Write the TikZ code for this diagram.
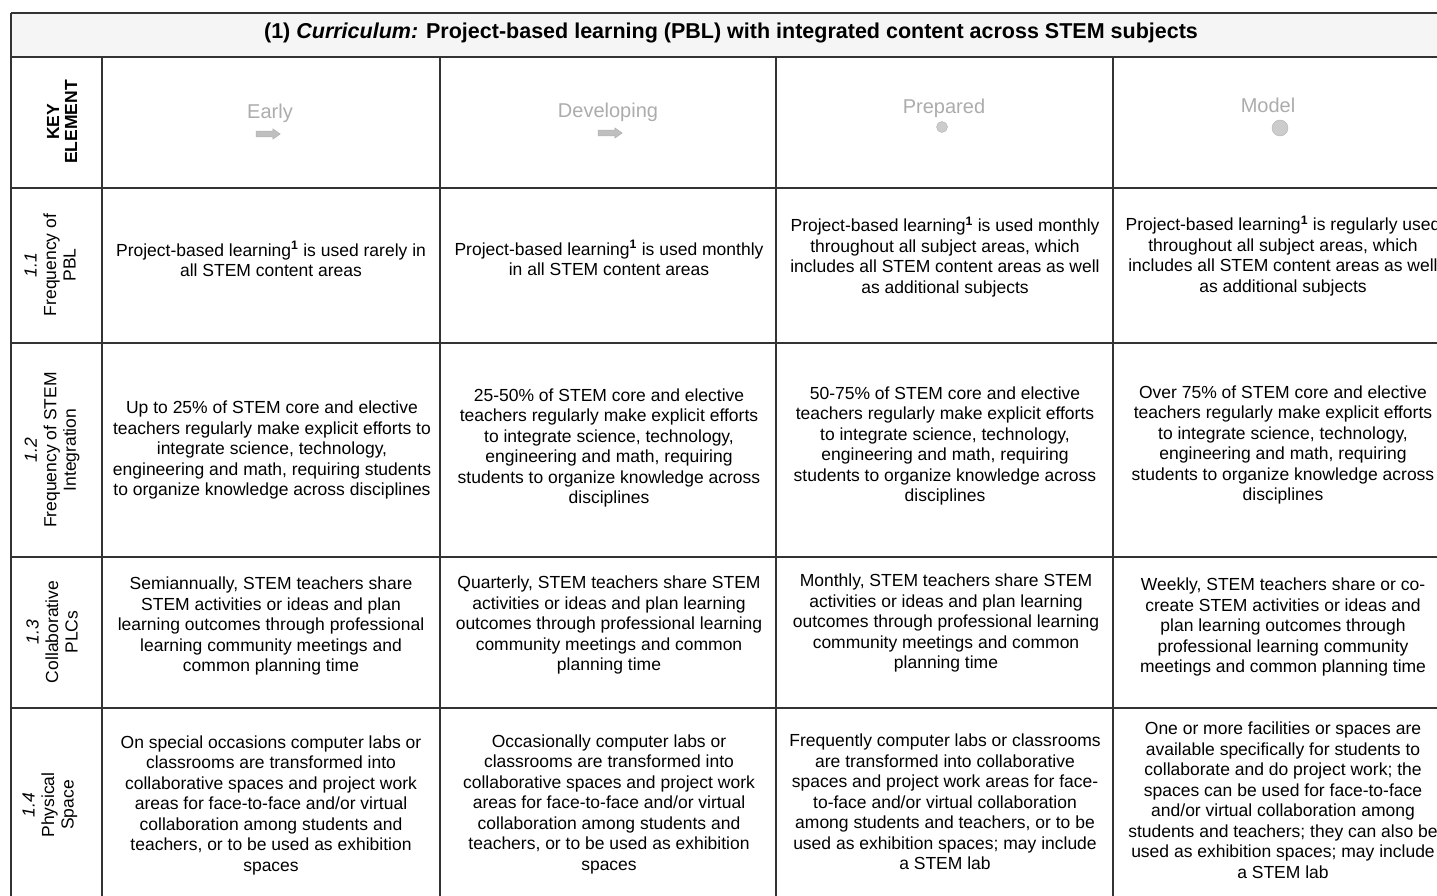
\documentclass[tikz,border=0pt]{standalone}
\usepackage{fontspec}
\setmainfont{Liberation Sans}
\usetikzlibrary{shapes.arrows}

\newcommand{\pbl}{Project-based learning\textsuperscript{\textbf{1}}}

\tikzset{
  celltext/.style={align=center, inner sep=0pt, font=\fontsize{17.5}{20.5}\selectfont},
  keytext/.style={align=center, inner sep=0pt, rotate=90, font=\fontsize{17.5}{19.5}\selectfont},
  leveltext/.style={inner sep=0pt, text=gray!65, font=\fontsize{20}{24}\selectfont},
  gridline/.style={draw=black!80, line width=1.3pt},
  levelarrow/.style={single arrow, draw=gray!60, fill=gray!50, inner xsep=0pt, inner ysep=2.5pt,
    line width=0.6pt, minimum width=10pt, minimum height=24pt, single arrow head extend=2pt,
    single arrow tip angle=70},
  leveldot/.style={circle, draw=gray!60, fill=gray!40, inner sep=0pt},
}

\begin{document}
\begin{tikzpicture}[x=1pt, y=-1pt]
  \useasboundingbox (0,0) rectangle (1437,896);
  \clip (0,0) rectangle (1437,896);

  % title band
  \fill[gray!8] (11,13) rectangle (1460,57);
  \node[inner sep=0pt, font=\bfseries\fontsize{21.5}{25}\selectfont] (title) at (731,33)
    {(1) \textit{Curriculum:} Project-based learning (PBL) with integrated content across STEM subjects};

  % grid
  \foreach \y in {13,57,188,343,557,708}
    \draw[gridline] (11,\y) -- (1460,\y);
  \draw[gridline] (11,13) -- (11,900);
  \foreach \x in {102,440,776,1113}
    \draw[gridline] (\x,57) -- (\x,900);

  % header row
  \node[keytext, font=\bfseries\fontsize{17.5}{18}\selectfont] (key) at (62,122) {KEY\\ELEMENT};
  \node[leveltext] (early) at (270,113) {Early};
  \node[levelarrow] (earlyarrow) at (266,134) {};
  \node[leveltext] (developing) at (608,112) {Developing};
  \node[levelarrow] (developingarrow) at (608,133) {};
  \node[leveltext] (prepared) at (944,108) {Prepared};
  \node[leveldot, minimum size=11pt] (prepareddot) at (942,127) {};
  \node[leveltext] (model) at (1268,105) {Model};
  \node[leveldot, minimum size=16pt] (modeldot) at (1280,128) {};

  % key elements
  \node[keytext] (k1) at (50,265) {\textit{1.1}\\Frequency of\\PBL};
  \node[keytext] (k2) at (52,450) {\textit{1.2}\\Frequency of STEM\\Integration};
  \node[keytext] (k3) at (52,632) {\textit{1.3}\\Collaborative\\PLCs};
  \node[keytext] (k4) at (50,805) {\textit{1.4}\\Physical\\Space};

  % 1.1 frequency of PBL
  \node[celltext] (e1) at (271,259) {\pbl{} is used rarely in\\all STEM content areas};
  \node[celltext] (d1) at (609,258) {\pbl{} is used monthly\\in all STEM content areas};
  \node[celltext] (p1) at (945,257) {\pbl{} is used monthly\\throughout all subject areas, which\\includes all STEM content areas as well\\as additional subjects};
  \node[celltext] (m1) at (1283,256) {\pbl{} is regularly used\\throughout all subject areas, which\\includes all STEM content areas as well\\as additional subjects};

  % 1.2 frequency of STEM integration
  \node[celltext] (e2) at (272,450) {Up to 25\% of STEM core and elective\\teachers regularly make explicit efforts to\\integrate science, technology,\\engineering and math, requiring students\\to organize knowledge across disciplines};
  \node[celltext] (d2) at (609,448) {25-50\% of STEM core and elective\\teachers regularly make explicit efforts\\to integrate science, technology,\\engineering and math, requiring\\students to organize knowledge across\\disciplines};
  \node[celltext] (p2) at (945,446) {50-75\% of STEM core and elective\\teachers regularly make explicit efforts\\to integrate science, technology,\\engineering and math, requiring\\students to organize knowledge across\\disciplines};
  \node[celltext] (m2) at (1283,445) {Over 75\% of STEM core and elective\\teachers regularly make explicit efforts\\to integrate science, technology,\\engineering and math, requiring\\students to organize knowledge across\\disciplines};

  % 1.3 collaborative PLCs
  \node[celltext] (e3) at (271,626) {Semiannually, STEM teachers share\\STEM activities or ideas and plan\\learning outcomes through professional\\learning community meetings and\\common planning time};
  \node[celltext] (d3) at (609,625) {Quarterly, STEM teachers share STEM\\activities or ideas and plan learning\\outcomes through professional learning\\community meetings and common\\planning time};
  \node[celltext] (p3) at (946,623) {Monthly, STEM teachers share STEM\\activities or ideas and plan learning\\outcomes through professional learning\\community meetings and common\\planning time};
  \node[celltext] (m3) at (1283,627) {Weekly, STEM teachers share or co-\\create STEM activities or ideas and\\plan learning outcomes through\\professional learning community\\meetings and common planning time};

  % 1.4 physical space
  \node[celltext] (e4) at (271,805) {On special occasions computer labs or\\classrooms are transformed into\\collaborative spaces and project work\\areas for face-to-face and/or virtual\\collaboration among students and\\teachers, or to be used as exhibition\\spaces};
  \node[celltext] (d4) at (609,804) {Occasionally computer labs or\\classrooms are transformed into\\collaborative spaces and project work\\areas for face-to-face and/or virtual\\collaboration among students and\\teachers, or to be used as exhibition\\spaces};
  \node[celltext] (p4) at (945,802) {Frequently computer labs or classrooms\\are transformed into collaborative\\spaces and project work areas for face-\\to-face and/or virtual collaboration\\among students and teachers, or to be\\used as exhibition spaces; may include\\a STEM lab};
  \node[celltext] (m4) at (1283,800) {One or more facilities or spaces are\\available specifically for students to\\collaborate and do project work; the\\spaces can be used for face-to-face\\and/or virtual collaboration among\\students and teachers; they can also be\\used as exhibition spaces; may include\\a STEM lab};
\end{tikzpicture}
\end{document}
